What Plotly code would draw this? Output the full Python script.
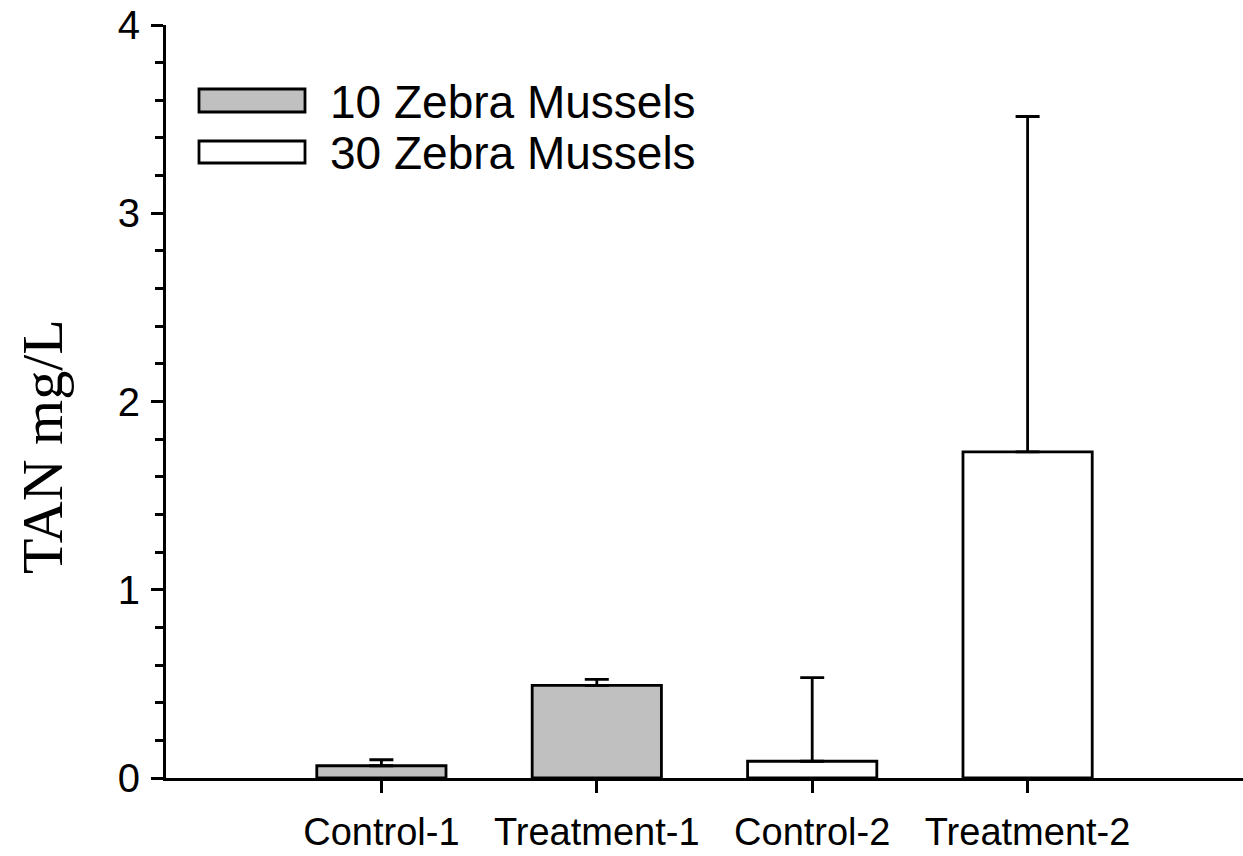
import plotly.graph_objects as go

# Total ammonia nitrogen by group
categories = ["Control-1", "Treatment-1", "Control-2", "Treatment-2"]

group_10 = ["Control-1", "Treatment-1"]
tan_10 = [0.065, 0.492]
err_10 = [0.032, 0.032]

group_30 = ["Control-2", "Treatment-2"]
tan_30 = [0.089, 1.732]
err_30 = [0.444, 1.782]

series_names = ["10 Zebra Mussels", "30 Zebra Mussels"]
fills = ["#C0C0C0", "#FFFFFF"]

y_ticks = [0, 1, 2, 3, 4]

SANS = "Liberation Sans, Arial, sans-serif"
SERIF = "Liberation Serif, Times New Roman, serif"
LW = 2.8

fig = go.Figure()
for name, xs, ys, es, fill in [
    (series_names[0], group_10, tan_10, err_10, fills[0]),
    (series_names[1], group_30, tan_30, err_30, fills[1]),
]:
    fig.add_trace(go.Bar(
        name=name, x=xs, y=ys, width=0.6,
        marker=dict(color=fill, line=dict(color="black", width=LW)),
        error_y=dict(type="data", array=es, arrayminus=[0] * len(es),
                     symmetric=False, color="black", thickness=LW, width=12),
        showlegend=False,
    ))

W, H = 1243, 856
ML, MR, MT, MB = 166, 0, 25, 78
pw, ph = W - ML - MR, H - MT - MB


def px_x(p):
    return (p - ML) / pw


def px_y(p):
    return (H - MB - p) / ph


# Key: swatches plus labels in the upper left
key_rows = [(89, 112), (141, 163)]
for (top, bot), name, fill in zip(key_rows, series_names, fills):
    fig.add_shape(type="rect", xref="paper", yref="paper",
                  x0=px_x(199), x1=px_x(305), y0=px_y(bot), y1=px_y(top),
                  fillcolor=fill, line=dict(color="black", width=LW))
    fig.add_annotation(xref="paper", yref="paper", x=px_x(328), y=px_y((top + bot) / 2 + 1),
                       xanchor="left", yanchor="middle", showarrow=False,
                       text=name, font=dict(family=SANS, size=46, color="black"))

# Y-axis title
fig.add_annotation(xref="paper", yref="paper", x=px_x(43), y=px_y(447),
                   xanchor="center", yanchor="middle", showarrow=False, textangle=-90,
                   text="TAN mg/L", font=dict(family=SERIF, size=58, color="black"))

fig.update_layout(
    width=W, height=H,
    margin=dict(l=ML, r=MR, t=MT, b=MB, pad=0),
    paper_bgcolor="white", plot_bgcolor="white",
    barmode="overlay",
    xaxis=dict(
        type="category", categoryorder="array", categoryarray=categories,
        range=[-1, 4], showgrid=False, zeroline=False,
        showline=True, linecolor="black", linewidth=LW,
        ticks="outside", ticklen=12, tickwidth=LW, tickcolor="black",
        tickfont=dict(family=SANS, size=38, color="black"),
        ticklabelstandoff=6,
    ),
    yaxis=dict(
        range=[0, 4], showgrid=False, zeroline=False,
        showline=True, linecolor="black", linewidth=LW,
        tickmode="array", tickvals=y_ticks,
        ticks="outside", ticklen=12, tickwidth=LW, tickcolor="black",
        tickfont=dict(family=SANS, size=40, color="black"),
        ticklabelstandoff=3,
        minor=dict(dtick=0.2, ticks="outside", ticklen=8, tickwidth=LW, tickcolor="black"),
    ),
)

fig.write_html("out.html")
